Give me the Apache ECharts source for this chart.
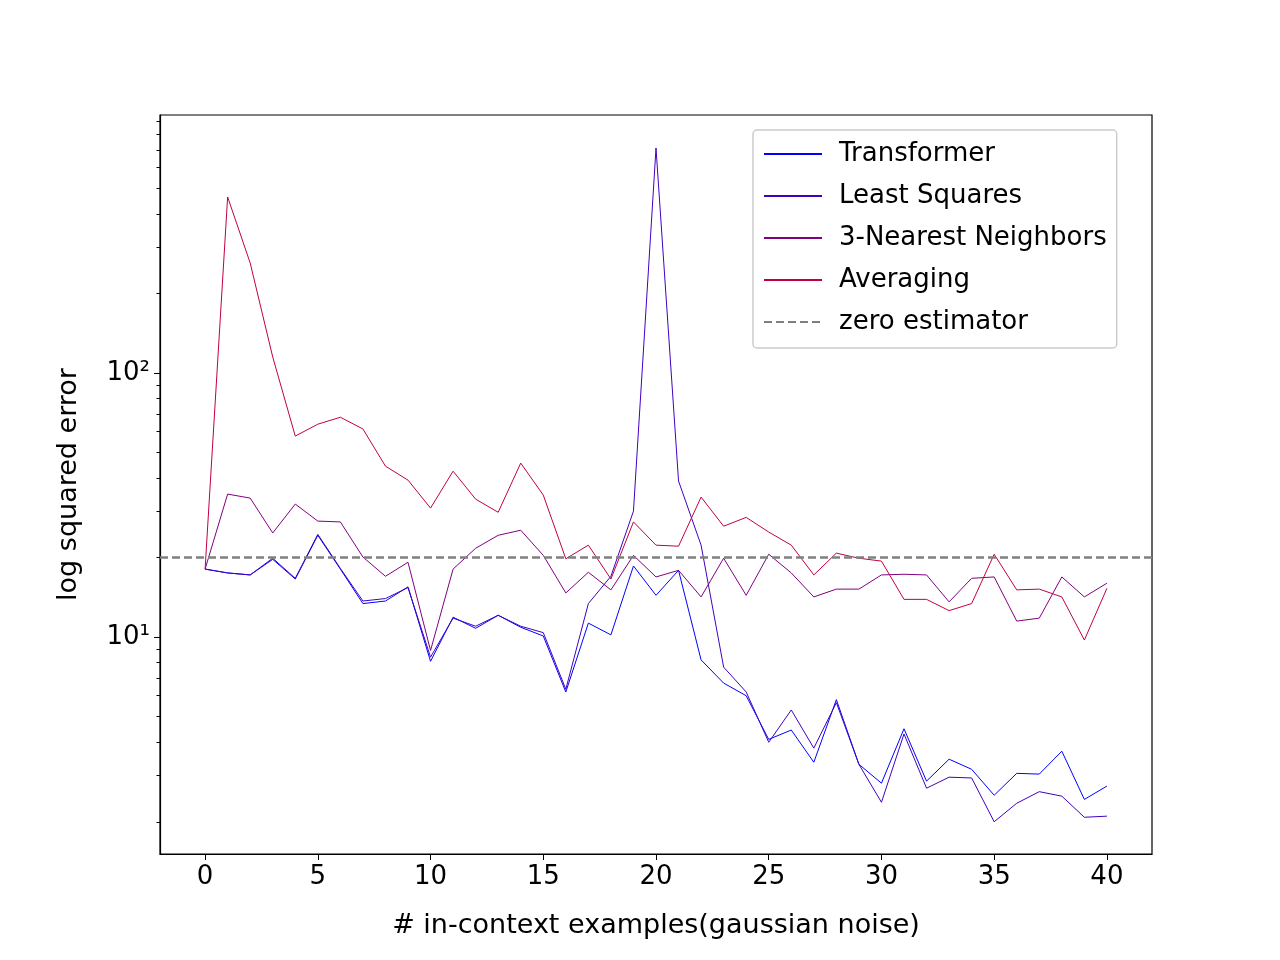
<!DOCTYPE html>
<html>
<head>
<meta charset="utf-8">
<script src="https://cdn.jsdelivr.net/npm/echarts@6/dist/echarts.min.js"></script>
<style>
  html, body { margin: 0; padding: 0; background: #fff; }
  #chart { width: 1280px; height: 960px; }
</style>
</head>
<body>
<div id="chart"></div>
<script>
// x values: number of in-context examples
const examples = [0,1,2,3,4,5,6,7,8,9,10,11,12,13,14,15,16,17,18,19,20,21,22,23,24,25,26,27,28,29,30,31,32,33,34,35,36,37,38,39,40];
const transformer = [18.1,17.5,17.2,19.7,16.6,24.3,18.1,13.4,13.7,15.5,8.1,11.9,10.8,12.1,10.9,10.1,6.2,11.3,10.2,18.6,14.4,17.9,8.2,6.7,6.0,4.1,4.45,3.36,5.8,3.3,2.8,4.5,2.85,3.45,3.16,2.52,3.05,3.03,3.7,2.43,2.73];
const leastSquares = [18.1,17.5,17.2,19.9,16.7,24.5,18.2,13.7,14.0,15.4,8.4,11.8,11.0,12.1,11.0,10.4,6.35,13.4,17.0,30,711,39,22.3,7.7,6.2,4.0,5.3,3.8,5.65,3.3,2.37,4.3,2.68,2.95,2.93,2.0,2.35,2.6,2.5,2.08,2.1];
const nearest3 = [18.1,34.8,33.6,24.8,31.9,27.5,27.3,20.1,17.0,19.2,8.9,18.1,21.7,24.3,25.4,20.4,14.7,17.6,15.1,20.4,16.9,17.9,14.2,19.9,14.4,20.6,17.5,14.2,15.2,15.2,17.2,17.3,17.2,13.6,16.7,16.9,11.5,11.8,16.9,14.2,16.0];
const averaging = [18.1,464,261,115,57.7,64,68,61.4,44.4,39.3,30.8,42.5,33.3,29.7,45.6,34.5,19.8,22.3,16.6,27.3,22.3,22.1,33.9,26.3,28.4,25,22.3,17.2,20.8,19.9,19.4,13.9,13.9,12.6,13.4,20.6,15.1,15.2,14.2,9.75,15.3];
const zeroLevel = 20;
const xTicks = [0,5,10,15,20,25,30,35,40];
const yMajor = [10, 100];
const yMinor = [2,3,4,5,6,7,8,9,20,30,40,50,60,70,80,90,200,300,400,500,600,700,800,900];

function pairs(ys) { return examples.map((x, i) => [x, ys[i]]); }

const font = 'DejaVu Sans';
const chart = echarts.init(document.getElementById('chart'));

function lineSeries(name, ys, color) {
  return {
    name: name, type: 'line', data: pairs(ys), symbol: 'none',
    lineStyle: { color: color, width: 1 }, itemStyle: { color: color },
    emphasis: { disabled: true }, animation: false
  };
}

const option = {
  animation: false,
  grid: { left: 160, right: 128, top: 115, bottom: 106, show: true, borderColor: '#000', borderWidth: 1.2 },
  legend: {
    orient: 'vertical', left: 753, top: 130,
    padding: [10, 10, 12, 10],
    itemWidth: 58, itemHeight: 14, itemGap: 14,
    borderColor: '#cccccc', borderWidth: 1.5, borderRadius: 4,
    backgroundColor: 'rgba(255,255,255,0.8)',
    itemStyle: { opacity: 0 },
    textStyle: { fontFamily: font, fontSize: 26, lineHeight: 28, color: '#000', padding: [0, 0, 0, 12] },
    data: ['Transformer', 'Least Squares', '3-Nearest Neighbors', 'Averaging', 'zero estimator']
  },
  xAxis: {
    type: 'value', min: -2, max: 42,
    name: '# in-context examples(gaussian noise)', nameLocation: 'middle', nameGap: 58,
    nameTextStyle: { fontFamily: font, fontSize: 27, color: '#000' },
    axisLine: { onZero: false, lineStyle: { color: '#000', width: 1.2 } },
    axisTick: { customValues: xTicks, length: 6, lineStyle: { color: '#000' } },
    axisLabel: { customValues: xTicks, fontFamily: font, fontSize: 26, color: '#000', margin: 10 },
    splitLine: { show: false }
  },
  yAxis: [{
    type: 'log', logBase: 10, min: 1.51, max: 948,
    name: 'log squared error', nameLocation: 'middle', nameGap: 78,
    nameTextStyle: { fontFamily: font, fontSize: 27, color: '#000' },
    axisLine: { show: true, onZero: false, lineStyle: { color: '#000', width: 1.2 } },
    axisTick: { customValues: yMajor, length: 6, lineStyle: { color: '#000' } },
    axisLabel: {
      customValues: yMajor, fontFamily: font, fontSize: 26, color: '#000', margin: 10,
      formatter: v => v >= 100 ? '10²' : '10¹'
    },
    splitLine: { show: false }
  }, {
    type: 'log', logBase: 10, min: 1.51, max: 948, position: 'left',
    axisLine: { show: false, onZero: false },
    axisTick: { customValues: yMinor, length: 3.5, lineStyle: { color: '#000' } },
    axisLabel: { show: false },
    splitLine: { show: false }
  }],
  series: [
    lineSeries('Transformer', transformer, '#0000ff'),
    lineSeries('Least Squares', leastSquares, '#4000c0'),
    lineSeries('3-Nearest Neighbors', nearest3, '#800080'),
    lineSeries('Averaging', averaging, '#c00040'),
    {
      name: 'zero estimator', type: 'line', data: [], symbol: 'none',
      lineStyle: { color: '#808080', width: 2.5, type: [8, 4] }, itemStyle: { color: '#808080' },
      markLine: {
        silent: true, symbol: 'none', label: { show: false },
        lineStyle: { color: '#808080', width: 2.5, type: [8, 4] },
        data: [{ yAxis: zeroLevel }]
      }
    }
  ]
};

chart.setOption(option);
</script>
</body>
</html>
